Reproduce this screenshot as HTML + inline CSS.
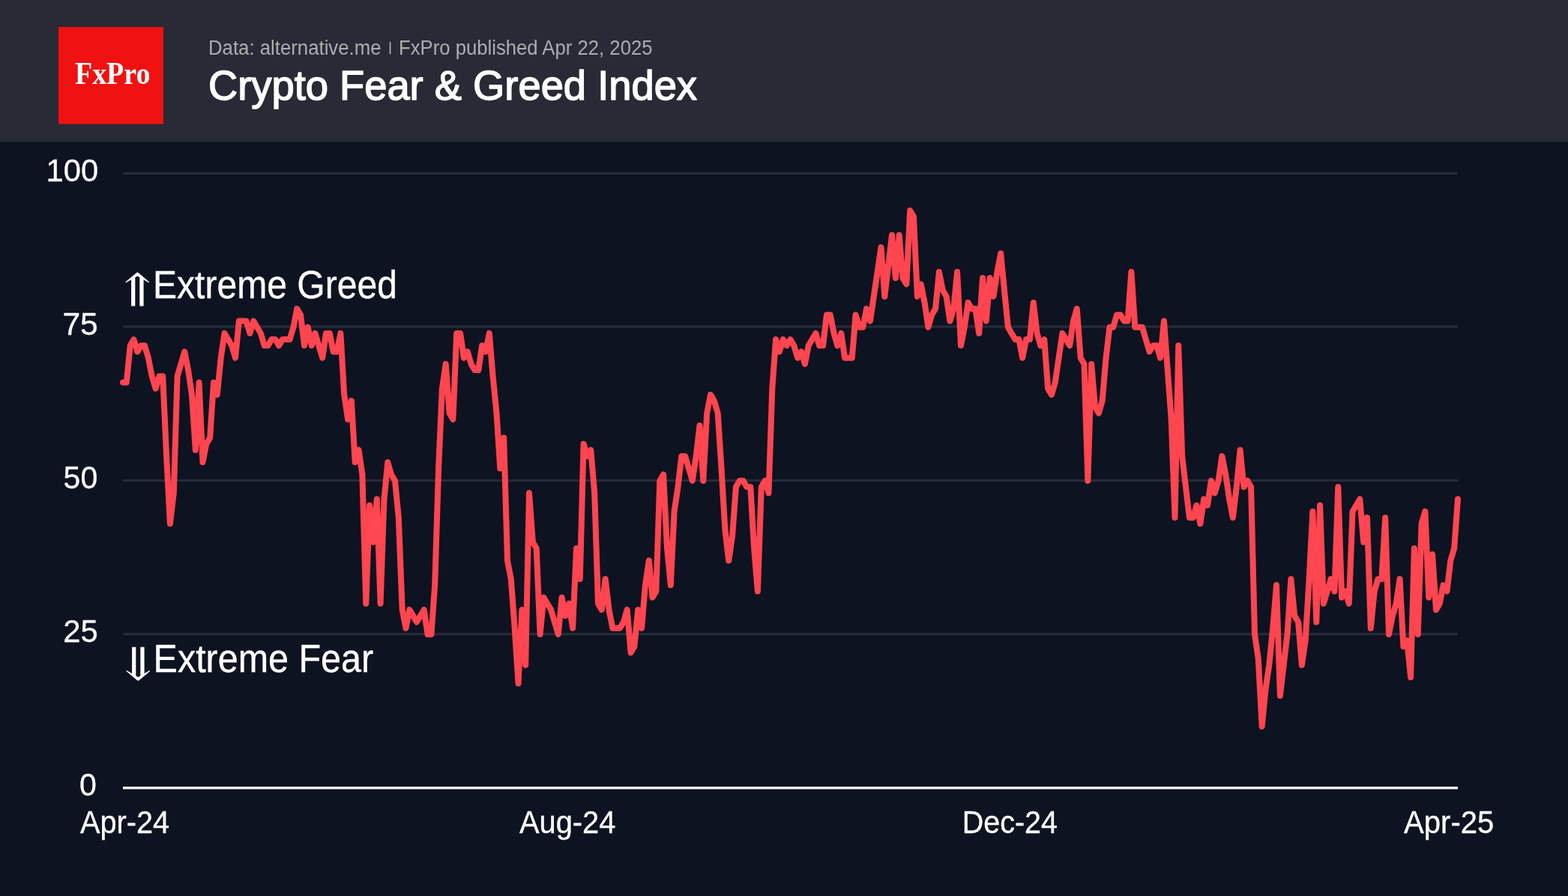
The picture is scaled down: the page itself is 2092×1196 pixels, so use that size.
<!DOCTYPE html>
<html lang="en">
<head>
<meta charset="utf-8">
<title>Crypto Fear &amp; Greed Index</title>
<style>
html,body{margin:0;padding:0;background:#0d1321;}
body{width:2092px;height:1196px;overflow:hidden;font-family:"Liberation Sans", sans-serif;}
svg{display:block;}
text{font-family:"Liberation Sans", sans-serif;fill:#fff;}
.arrow{font-family:"DejaVu Math TeX Gyre","DejaVu Sans",sans-serif;}
.logo{font-family:"Liberation Serif",serif;font-weight:bold;}
.sub{fill:#adadad;}
</style>
</head>
<body>
<svg width="2092" height="1196" viewBox="0 0 2092 1196">
  <rect x="0" y="0" width="2092" height="1196" fill="#0d1321"/>
  <!-- header -->
  <rect x="0" y="0" width="2092" height="189.6" fill="#282a36"/>
  <rect x="78" y="36" width="140" height="129.6" fill="#f01111"/>
  <text class="logo" x="100" y="112" font-size="41.5" textLength="100.4" lengthAdjust="spacingAndGlyphs">FxPro</text>
  <text class="sub" x="278" y="72.6" font-size="27" textLength="230.5" lengthAdjust="spacingAndGlyphs">Data: alternative.me</text>
  <rect x="519.75" y="55.8" width="1.6" height="16.2" fill="#b9b9b9"/>
  <text class="sub" x="532" y="72.6" font-size="27" textLength="338.5" lengthAdjust="spacingAndGlyphs">FxPro published Apr 22, 2025</text>
  <text x="278" y="132.5" font-size="56" stroke="#fff" stroke-width="1.5" stroke-linejoin="round" textLength="652" lengthAdjust="spacingAndGlyphs">Crypto Fear &amp; Greed Index</text>
  <!-- grid -->
  <g fill="#262b39">
    <rect x="164" y="229.75" width="1781" height="3.25"/>
    <rect x="164" y="434.35" width="1781" height="3.3"/>
    <rect x="164" y="639.75" width="1781" height="3.25"/>
    <rect x="164" y="844.75" width="1781" height="3.25"/>
  </g>
  <rect x="164" y="1050" width="1781" height="3.4" fill="#ffffff"/>
  <!-- y axis labels -->
  <g font-size="43" stroke="#fff" stroke-width="0.3">
    <text x="61.6" y="242" textLength="69.6" lengthAdjust="spacingAndGlyphs">100</text>
    <text x="83.4" y="447.2" textLength="47.4" lengthAdjust="spacingAndGlyphs">75</text>
    <text x="84.6" y="652.2" textLength="45.6" lengthAdjust="spacingAndGlyphs">50</text>
    <text x="84.2" y="857.3" textLength="46.6" lengthAdjust="spacingAndGlyphs">25</text>
    <text x="105.9" y="1062.1" textLength="22.8" lengthAdjust="spacingAndGlyphs">0</text>
  </g>
  <!-- x axis labels -->
  <g font-size="43" stroke="#fff" stroke-width="0.3">
    <text x="107" y="1112.3" textLength="119.2" lengthAdjust="spacingAndGlyphs">Apr-24</text>
    <text x="693" y="1112.3" textLength="128.4" lengthAdjust="spacingAndGlyphs">Aug-24</text>
    <text x="1283.8" y="1112.3" textLength="127.2" lengthAdjust="spacingAndGlyphs">Dec-24</text>
    <text x="1873" y="1112.3" textLength="120.4" lengthAdjust="spacingAndGlyphs">Apr-25</text>
  </g>
  <!-- annotations -->
  <text class="arrow" transform="translate(162.6,401.2) scale(1.19,1)" font-size="54">⇑</text>
  <text x="204" y="398" font-size="51" stroke="#fff" stroke-width="0.35" textLength="326" lengthAdjust="spacingAndGlyphs">Extreme Greed</text>
  <text class="arrow" transform="translate(163.6,900.6) scale(1.19,1)" font-size="54">⇓</text>
  <text x="204.6" y="896.7" font-size="51" stroke="#fff" stroke-width="0.35" textLength="293.5" lengthAdjust="spacingAndGlyphs">Extreme Fear</text>
  <!-- data line -->
  <polyline fill="none" stroke="#ff454f" stroke-width="8" stroke-linejoin="round" stroke-linecap="round" points="164.0,510.5 168.8,510.5 173.7,461.3 178.5,453.1 183.4,469.5 188.2,461.3 193.0,461.3 197.9,477.7 202.7,502.3 207.6,518.7 212.4,502.3 217.2,502.3 222.1,608.9 226.9,699.1 231.8,658.1 236.6,502.3 241.4,485.9 246.3,469.5 251.1,494.1 256.0,526.9 260.8,600.7 265.6,510.5 270.5,617.1 275.3,592.5 280.2,584.3 285.0,510.5 289.8,526.9 294.7,477.7 299.5,444.9 304.4,453.1 309.2,461.3 314.0,477.7 318.9,428.5 323.7,428.5 328.5,428.5 333.4,444.9 338.2,428.5 343.1,436.7 347.9,444.9 352.7,461.3 357.6,461.3 362.4,453.1 367.3,453.1 372.1,461.3 376.9,453.1 381.8,453.1 386.6,453.1 391.5,436.7 396.3,412.1 401.1,420.3 406.0,461.3 410.8,436.7 415.7,461.3 420.5,444.9 425.3,461.3 430.2,477.7 435.0,444.9 439.9,444.9 444.7,469.5 449.5,469.5 454.4,444.9 459.2,526.9 464.1,559.7 468.9,535.1 473.7,617.1 478.6,600.7 483.4,633.5 488.3,805.7 493.1,674.5 497.9,723.7 502.8,666.3 507.6,805.7 512.5,666.3 517.3,617.1 522.1,633.5 527.0,641.7 531.8,690.9 536.7,813.9 541.5,838.5 546.3,813.9 551.2,822.1 556.0,830.3 560.9,822.1 565.7,813.9 570.5,846.7 575.4,846.7 580.2,781.1 585.1,625.3 589.9,518.7 594.7,485.9 599.6,551.5 604.4,559.7 609.2,444.9 614.1,444.9 618.9,477.7 623.8,469.5 628.6,485.9 633.4,494.1 638.3,494.1 643.1,461.3 648.0,469.5 652.8,444.9 657.6,502.3 662.5,551.5 667.3,625.3 672.2,584.3 677.0,748.3 681.8,772.9 686.7,838.5 691.5,912.3 696.4,813.9 701.2,887.7 706.0,658.1 710.9,723.7 715.7,731.9 720.6,846.7 725.4,797.5 730.2,805.7 735.1,813.9 739.9,830.3 744.8,846.7 749.6,797.5 754.4,822.1 759.3,805.7 764.1,838.5 769.0,731.9 773.8,772.9 778.6,592.5 783.5,608.9 788.3,600.7 793.2,658.1 798.0,805.7 802.8,813.9 807.7,772.9 812.5,813.9 817.4,838.5 822.2,838.5 827.0,838.5 831.9,830.3 836.7,813.9 841.6,871.3 846.4,863.1 851.2,813.9 856.1,838.5 860.9,781.1 865.8,748.3 870.6,797.5 875.4,789.3 880.3,641.7 885.1,633.5 890.0,731.9 894.8,781.1 899.6,682.7 904.5,649.9 909.3,608.9 914.1,608.9 919.0,625.3 923.8,641.7 928.7,608.9 933.5,567.9 938.3,641.7 943.2,551.5 948.0,526.9 952.9,535.1 957.7,551.5 962.5,625.3 967.4,707.3 972.2,748.3 977.1,715.5 981.9,649.9 986.7,641.7 991.6,641.7 996.4,649.9 1001.3,649.9 1006.1,731.9 1010.9,789.3 1015.8,649.9 1020.6,641.7 1025.5,658.1 1030.3,518.7 1035.1,453.1 1040.0,469.5 1044.8,453.1 1049.7,461.3 1054.5,453.1 1059.3,461.3 1064.2,477.7 1069.0,469.5 1073.9,485.9 1078.7,461.3 1083.5,453.1 1088.4,444.9 1093.2,461.3 1098.1,461.3 1102.9,420.3 1107.7,420.3 1112.6,444.9 1117.4,461.3 1122.3,444.9 1127.1,477.7 1131.9,477.7 1136.8,477.7 1141.6,420.3 1146.5,436.7 1151.3,436.7 1156.1,412.1 1161.0,428.5 1165.8,395.7 1170.7,362.9 1175.5,330.1 1180.3,395.7 1185.2,354.7 1190.0,313.7 1194.9,371.1 1199.7,313.7 1204.5,371.1 1209.4,379.3 1214.2,280.9 1219.0,289.1 1223.9,395.7 1228.7,379.3 1233.6,403.9 1238.4,436.7 1243.2,420.3 1248.1,412.1 1252.9,362.9 1257.8,387.5 1262.6,395.7 1267.4,428.5 1272.3,412.1 1277.1,362.9 1282.0,461.3 1286.8,436.7 1291.6,403.9 1296.5,412.1 1301.3,412.1 1306.2,444.9 1311.0,371.1 1315.8,428.5 1320.7,371.1 1325.5,395.7 1330.4,362.9 1335.2,338.3 1340.0,387.5 1344.9,436.7 1349.7,444.9 1354.6,453.1 1359.4,453.1 1364.2,477.7 1369.1,453.1 1373.9,453.1 1378.8,403.9 1383.6,444.9 1388.4,461.3 1393.3,453.1 1398.1,518.7 1403.0,526.9 1407.8,510.5 1412.6,477.7 1417.5,444.9 1422.3,453.1 1427.2,461.3 1432.0,428.5 1436.8,412.1 1441.7,477.7 1446.5,485.9 1451.4,641.7 1456.2,485.9 1461.0,543.3 1465.9,551.5 1470.7,535.1 1475.6,477.7 1480.4,436.7 1485.2,436.7 1490.1,420.3 1494.9,420.3 1499.8,428.5 1504.6,428.5 1509.4,362.9 1514.3,436.7 1519.1,436.7 1523.9,436.7 1528.8,453.1 1533.6,469.5 1538.5,461.3 1543.3,461.3 1548.1,477.7 1553.0,428.5 1557.8,494.1 1562.7,559.7 1567.5,690.9 1572.3,461.3 1577.2,608.9 1582.0,649.9 1586.9,690.9 1591.7,690.9 1596.5,674.5 1601.4,699.1 1606.2,666.3 1611.1,674.5 1615.9,641.7 1620.7,658.1 1625.6,641.7 1630.4,608.9 1635.3,633.5 1640.1,666.3 1644.9,690.9 1649.8,649.9 1654.6,600.7 1659.5,649.9 1664.3,641.7 1669.1,649.9 1674.0,846.7 1678.8,879.5 1683.7,969.7 1688.5,920.5 1693.3,887.7 1698.2,838.5 1703.0,781.1 1707.9,928.7 1712.7,887.7 1717.5,846.7 1722.4,772.9 1727.2,822.1 1732.1,830.3 1736.9,887.7 1741.7,854.9 1746.6,772.9 1751.4,682.7 1756.3,830.3 1761.1,674.5 1765.9,805.7 1770.8,789.3 1775.6,772.9 1780.5,789.3 1785.3,649.9 1790.1,797.5 1795.0,789.3 1799.8,805.7 1804.6,682.7 1809.5,674.5 1814.3,666.3 1819.2,723.7 1824.0,690.9 1828.8,838.5 1833.7,789.3 1838.5,772.9 1843.4,772.9 1848.2,690.9 1853.0,846.7 1857.9,822.1 1862.7,805.7 1867.6,772.9 1872.4,863.1 1877.2,854.9 1882.1,904.1 1886.9,731.9 1891.8,846.7 1896.6,699.1 1901.4,682.7 1906.3,797.5 1911.1,740.1 1916.0,813.9 1920.8,805.7 1925.6,781.1 1930.5,789.3 1935.3,748.3 1940.2,731.9 1945.0,666.3"/>
</svg>
</body>
</html>
